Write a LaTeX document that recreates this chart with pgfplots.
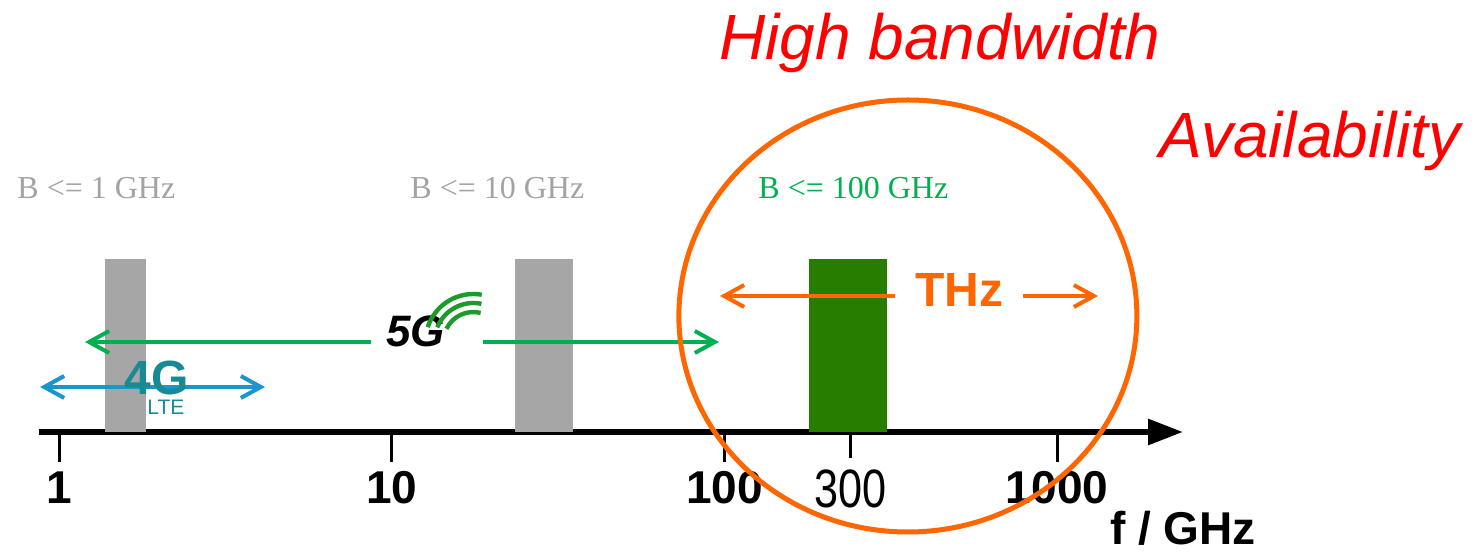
\documentclass[border=0pt]{standalone}
\usepackage{fontspec}
\usepackage{graphicx}
\setmainfont{Liberation Serif}
\setsansfont{Liberation Sans}
\usepackage{pgfplots}
\pgfplotsset{compat=1.18}
\usetikzlibrary{arrows.meta,calc}
\definecolor{barGray}{HTML}{A6A6A6}
\definecolor{txtGray}{HTML}{A3A3A3}
\definecolor{barGreen}{HTML}{267D00}
\definecolor{fiveG}{HTML}{00B050}
\definecolor{fourG}{HTML}{1B95CD}
\definecolor{lteTeal}{HTML}{178A96}
\definecolor{thz}{HTML}{FF6600}
\definecolor{arcGreen}{HTML}{1E9A2A}
\begin{document}
\begin{tikzpicture}
\begin{axis}[name=ax, scale only axis, width=572pt, height=216pt,
  xmode=log, xmin=0.8706, xmax=2390, ymin=0, ymax=432,
  axis x line=bottom, axis y line=none, clip=false, no marks,
  x axis line style={line width=3pt, -{Triangle[length=17.5pt,width=12.5pt]}},
  xtick={1,10,100,1000}, xticklabels={1,10,100,1000},
  xminorticks=false,
  xtick align=outside, major tick length=15pt,
  xtick style={line width=1.5pt, black},
  xticklabel style={font=\fontsize{23}{23}\selectfont\sffamily\bfseries, inner sep=0pt, anchor=north, yshift=-4.5pt},
  extra x ticks={240}, extra x tick labels={\scalebox{0.8}[1]{300}},
  extra x tick style={major tick length=13pt, tick style={line width=3pt},
    xticklabel style={font=\fontsize{27}{27}\selectfont\sffamily, yshift=-1pt}},
  xlabel={f / GHz},
  xlabel style={at={(axis description cs:1,0)}, anchor=base, yshift=-56.5pt, inner sep=0pt,
    font=\fontsize{23}{23}\selectfont\sffamily\bfseries},
]
% bands (GHz)
\addplot[fill=barGray, draw=none] coordinates {(1.375,0) (1.375,173) (1.826,173) (1.826,0)} -- cycle;
\addplot[fill=barGray, draw=none] coordinates {(23.5,0) (23.5,173) (35.1,173) (35.1,0)} -- cycle;
\addplot[fill=barGreen, draw=none] coordinates {(179.6,0) (179.6,173) (308,173) (308,0)} -- cycle;
% ranges
\addplot[fourG, line width=2pt, {Straight Barb[length=10pt,width=11pt]}-{Straight Barb[length=10pt,width=11pt]}] coordinates {(0.877,45) (4.16,45)};
\addplot[fiveG, line width=2pt, -{Straight Barb[length=10pt,width=11pt]}] coordinates {(8.67,90) (1.197,90)};
\addplot[fiveG, line width=2pt, -{Straight Barb[length=10pt,width=11pt]}] coordinates {(18.8,90) (96.3,90)};
\addplot[thz, line width=2pt, -{Straight Barb[length=10pt,width=11pt]}] coordinates {(326,136) (97,136)};
\addplot[thz, line width=2pt, -{Straight Barb[length=10pt,width=11pt]}] coordinates {(789,136) (1327,136)};
% labels
\node[anchor=base west, inner sep=0pt, text=txtGray, font=\fontsize{16}{16}\selectfont] at (axis cs:0.748,233) {B <= 1 GHz};
\node[anchor=base west, inner sep=0pt, text=txtGray, font=\fontsize{16}{16}\selectfont] at (axis cs:11.35,233) {B <= 10 GHz};
\node[anchor=base west, inner sep=0pt, text=fiveG, font=\fontsize{16}{16}\selectfont] at (axis cs:126.2,233) {B <= 100 GHz};
\node[anchor=base west, inner sep=0pt, text=thz, font=\fontsize{24}{24}\selectfont\sffamily\bfseries] at (axis cs:374,125) {THz};
\node[anchor=base west, inner sep=0pt, text=lteTeal, font=\fontsize{24}{24}\selectfont\sffamily\bfseries] at (axis cs:1.568,37) {4G};
\node[anchor=base west, inner sep=0pt, text=lteTeal, font=\fontsize{10.5}{10.5}\selectfont\sffamily] at (axis cs:1.839,17) {LTE};
\node[anchor=base west, inner sep=0pt, text=black, font=\fontsize{22}{22}\selectfont\sffamily\bfseries\itshape] at (axis cs:9.6,85) {5G};
\draw[arcGreen, line width=2.2pt] (axis cs:17.6,90) ++(162:24pt) arc[start angle=162, end angle=80, radius=24pt];
\draw[arcGreen, line width=2.2pt] (axis cs:17.6,90) ++(158:19.5pt) arc[start angle=158, end angle=78, radius=19.5pt];
\draw[arcGreen, line width=2.2pt] (axis cs:17.6,90) ++(154:15pt) arc[start angle=154, end angle=76, radius=15pt];
\node[anchor=base west, inner sep=0pt, text=red, font=\fontsize{32}{32}\selectfont\sffamily\itshape] at (axis cs:96.3,372) {High bandwidth};
\node[anchor=base west, inner sep=0pt, text=red, font=\fontsize{32}{32}\selectfont\sffamily\itshape] at (axis cs:2025,274) {Availability};
\coordinate (ec) at (axis cs:356,116);
\end{axis}
\draw[thz, line width=2.5pt] (ec) ellipse [x radius=114.5pt, y radius=108pt];
\pgfresetboundingbox
\path[use as bounding box] ($(ax.south west)+(-19.5pt,-61.5pt)$) rectangle ($(ax.south west)+(719pt,216pt)$);
\end{tikzpicture}
\end{document}
